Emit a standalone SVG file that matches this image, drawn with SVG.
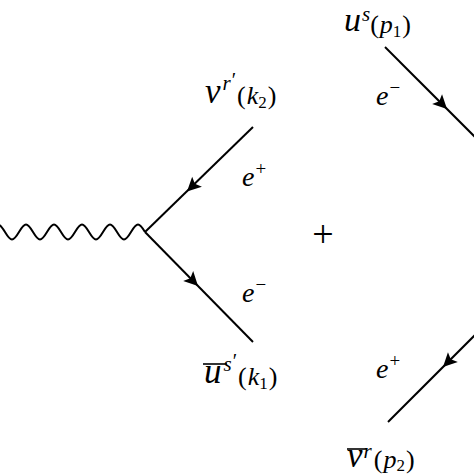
<svg xmlns="http://www.w3.org/2000/svg" xmlns:xlink="http://www.w3.org/1999/xlink" width="474" height="474" viewBox="0 0 474 474">
<style>
.ln{fill:none;stroke:#000;stroke-width:2;stroke-linecap:butt}
.wv{fill:none;stroke:#000;stroke-width:2}
text{font-family:'Liberation Serif','Times New Roman',serif;fill:#000}
.i{font-style:italic}
.ov{stroke:#000;stroke-width:1.6}
</style>
<defs>
<path id="ah" d="M0,0 L-14,-7 L-11,0 L-14,7 Z" fill="#000"/>
</defs>
<rect width="474" height="474" fill="#fff"/>
<g id="connectors">
<path id="photon" class="wv" d="M-9,232 c5.94,-10 8.06,-10 14,0 c5.94,10 8.06,10 14,0 c5.94,-10 8.06,-10 14,0 c5.94,10 8.06,10 14,0 c5.94,-10 8.06,-10 14,0 c5.94,10 8.06,10 14,0 c5.94,-10 8.06,-10 14,0 c5.94,10 8.06,10 14,0 c5.94,-10 8.06,-10 14,0 c5.94,10 8.06,10 14,0 c5.94,-10 8.06,-10 14,0"/>
<line class="ln" x1="253" y1="127" x2="145" y2="232"/>
<line class="ln" x1="145" y1="232" x2="253" y2="342"/>
<line class="ln" x1="385" y1="47" x2="482" y2="144"/>
<line class="ln" x1="388" y1="422" x2="482" y2="328"/>
<use xlink:href="#ah" transform="translate(187,191.5) rotate(135.8)"/>
<use xlink:href="#ah" transform="translate(198,286) rotate(45.5)"/>
<use xlink:href="#ah" transform="translate(447,109) rotate(45)"/>
<use xlink:href="#ah" transform="translate(443,367) rotate(135)"/>
</g>
<g id="label-v-k2">
<text x="205" y="103"><tspan class="i" font-size="35">v</tspan><tspan class="i" font-size="21" dx="2" dy="-13">r</tspan><tspan font-size="20" dx="1" dy="-3">′</tspan><tspan font-size="26" dx="1" dy="17">(</tspan><tspan class="i" font-size="26" dx="1">k</tspan><tspan font-size="17" dy="4">2</tspan><tspan font-size="26" dx="1" dy="-4">)</tspan></text>
</g>
<g id="label-ubar-k1">
<line class="ov" x1="203" y1="364" x2="227" y2="364"/>
<text x="204" y="383"><tspan class="i" font-size="35">u</tspan><tspan class="i" font-size="21" dx="2" dy="-12">s</tspan><tspan font-size="20" dx="1" dy="-3">′</tspan><tspan font-size="26" dx="1" dy="17">(</tspan><tspan class="i" font-size="26" dx="1">k</tspan><tspan font-size="17" dy="4">1</tspan><tspan font-size="26" dx="1" dy="-4">)</tspan></text>
</g>
<g id="label-u-p1">
<text x="344" y="31"><tspan class="i" font-size="34">u</tspan><tspan class="i" font-size="21" dx="1" dy="-10">s</tspan><tspan font-size="26" dx="0" dy="12">(</tspan><tspan class="i" font-size="26" dx="1">p</tspan><tspan font-size="17" dy="4">1</tspan><tspan font-size="26" dx="1" dy="-4">)</tspan></text>
</g>
<g id="label-vbar-p2">
<line class="ov" x1="347" y1="449" x2="367" y2="449"/>
<text x="347" y="467"><tspan class="i" font-size="35">v</tspan><tspan class="i" font-size="21" dx="1" dy="-9">r</tspan><tspan font-size="26" dx="2" dy="10">(</tspan><tspan class="i" font-size="26" dx="1">p</tspan><tspan font-size="17" dy="3">2</tspan><tspan font-size="26" dx="1" dy="-3">)</tspan></text>
</g>
<g id="label-e-plus-left">
<text x="242" y="186"><tspan class="i" font-size="28">e</tspan><tspan font-size="19" dx="1" dy="-11">+</tspan></text>
</g>
<g id="label-e-minus-left">
<text x="242" y="302"><tspan class="i" font-size="28">e</tspan><tspan font-size="19" dx="1" dy="-11">−</tspan></text>
</g>
<g id="label-e-minus-right">
<text x="376" y="105"><tspan class="i" font-size="28">e</tspan><tspan font-size="19" dx="1" dy="-11">−</tspan></text>
</g>
<g id="label-e-plus-right">
<text x="376" y="378"><tspan class="i" font-size="28">e</tspan><tspan font-size="19" dx="1" dy="-11">+</tspan></text>
</g>
<g id="plus">
<text x="323" y="247" font-size="38" text-anchor="middle">+</text>
</g>
</svg>
